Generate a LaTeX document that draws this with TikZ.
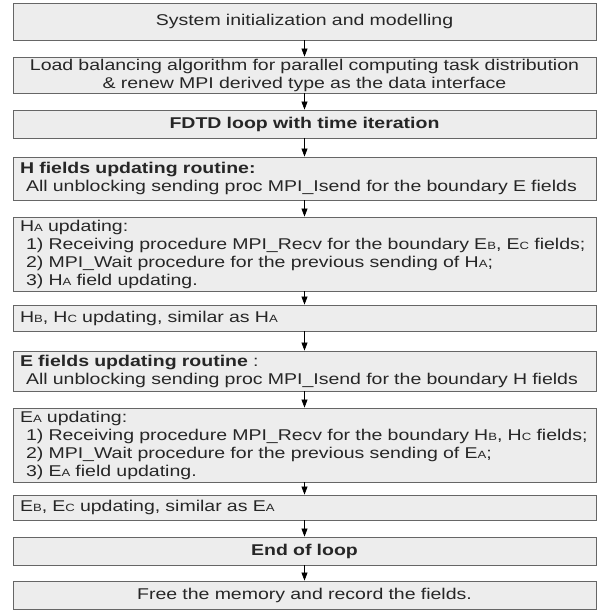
\documentclass[tikz,border=0pt]{standalone}
\usepackage{fontspec}
\setmainfont[FakeStretch=1.25]{Liberation Sans}
\usetikzlibrary{arrows.meta,shadows}
\newcommand{\sm}[1]{{\fontsize{10.5pt}{10.5pt}\selectfont #1}}
\begin{document}
\begin{tikzpicture}[x=1pt,y=-1pt,
  box/.style={draw=black!60, line width=0.9pt, fill=black!7,
    drop shadow={shadow xshift=0.8pt, shadow yshift=-0.8pt, fill=black!85, opacity=1},
    minimum width=583pt, text width=569pt, inner xsep=7pt, inner ysep=0pt,
    font=\fontsize{15.6pt}{18pt}\selectfont, text=black!85},
  cbox/.style={box, align=center},
  lbox/.style={box, align=left},
  arr/.style={draw=black, line width=0.7pt, -{Triangle[length=8pt,width=6pt]}}]
\useasboundingbox (0,0) rectangle (598,612);
\fill[white] (0,0) rectangle (598,612);
\node[cbox, minimum height=37pt] (b1) at (304.5,21.5) {System initialization and modelling};
\node[cbox, minimum height=36pt] (b2) at (304.5,75) {Load balancing algorithm for parallel computing task distribution\\ \& renew MPI derived type as the data interface};
\node[cbox, minimum height=28pt] (b3) at (304.5,124) {\textbf{FDTD loop with time iteration}};
\node[lbox, minimum height=43pt] (b4) at (304.5,178.5) {\textbf{H fields updating routine:}\\ \hspace*{6pt}All unblocking sending proc MPI\_Isend for the boundary E fields};
\node[lbox, minimum height=74pt] (b5) at (304.5,254) {H\sm{A} updating:\\ \hspace*{6pt}1) Receiving procedure MPI\_Recv for the boundary E\sm{B}, E\sm{C} fields;\\ \hspace*{6pt}2) MPI\_Wait procedure for the previous sending of H\sm{A};\\ \hspace*{6pt}3) H\sm{A} field updating.};
\node[lbox, minimum height=26pt] (b6) at (304.5,318) {H\sm{B}, H\sm{C} updating, similar as H\sm{A}};
\node[lbox, minimum height=40pt] (b7) at (304.5,371) {\textbf{E fields updating routine} :\\ \hspace*{6pt}All unblocking sending proc MPI\_Isend for the boundary H fields};
\node[lbox, minimum height=74pt] (b8) at (304.5,445) {E\sm{A} updating:\\ \hspace*{6pt}1) Receiving procedure MPI\_Recv for the boundary H\sm{B}, H\sm{C} fields;\\ \hspace*{6pt}2) MPI\_Wait procedure for the previous sending of E\sm{A};\\ \hspace*{6pt}3) E\sm{A} field updating.};
\node[lbox, minimum height=25pt] (b9) at (304.5,507.5) {E\sm{B}, E\sm{C} updating, similar as E\sm{A}};
\node[cbox, minimum height=28pt] (b10) at (304.5,551) {\textbf{End of loop}};
\node[cbox, minimum height=28pt] (b11) at (304.5,595) {Free the memory and record the fields.};
\foreach \a/\b in {b1/b2,b2/b3,b3/b4,b4/b5,b5/b6,b6/b7,b7/b8,b8/b9,b9/b10,b10/b11}
  \draw[arr] (\a.south) -- (\b.north);
\end{tikzpicture}
\end{document}
